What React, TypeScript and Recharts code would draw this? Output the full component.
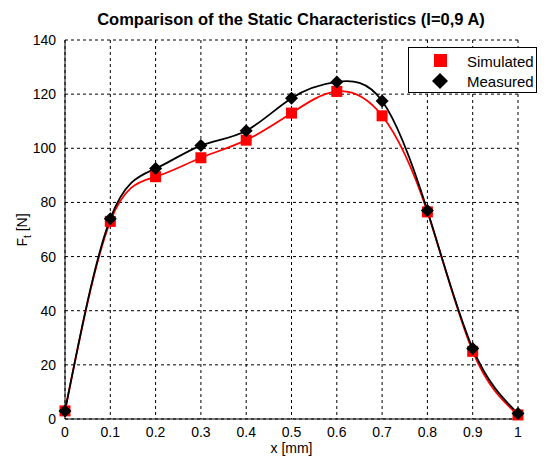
import { LineChart, Line, XAxis, YAxis, CartesianGrid, Legend } from "recharts"

const xValues = [0, 0.1, 0.2, 0.3, 0.4, 0.5, 0.6, 0.7, 0.8, 0.9, 1]
const simulated = [3, 73, 89.5, 96.5, 103, 113, 121, 112, 76.5, 25, 1.5]
const measured = [3, 74, 92.5, 101, 106.5, 118.5, 124.5, 117.5, 77, 26, 2]
const xTicks = [0, 0.1, 0.2, 0.3, 0.4, 0.5, 0.6, 0.7, 0.8, 0.9, 1]
const yTicks = [0, 20, 40, 60, 80, 100, 120, 140]

const data = xValues.map((x, i) => ({ x, sim: simulated[i], meas: measured[i] }))

const FONT = "'Liberation Sans', Arial, sans-serif"

const Square = (props: any) => {
  const { cx, cy } = props
  if (cx == null || cy == null) return null
  return <rect x={cx - 5.5} y={cy - 5.5} width={11} height={11} fill="#ff0000" />
}

const Diamond = (props: any) => {
  const { cx, cy } = props
  if (cx == null || cy == null) return null
  const r = 6.5
  return <polygon points={`${cx},${cy - r} ${cx + r},${cy} ${cx},${cy + r} ${cx - r},${cy}`} fill="#000" />
}

const LegendBox = () => (
  <div
    style={{
      border: "1px solid #000",
      background: "#fff",
      width: 129,
      height: 46,
      fontFamily: FONT,
      fontSize: 15,
      boxSizing: "border-box",
      paddingTop: 3,
    }}
  >
    <div style={{ display: "flex", alignItems: "center", height: 20 }}>
      <svg width={50} height={14}>
        <rect x={25} y={0} width={13} height={13} fill="#ff0000" />
      </svg>
      <span style={{ marginLeft: 8 }}>Simulated</span>
    </div>
    <div style={{ display: "flex", alignItems: "center", height: 20 }}>
      <svg width={50} height={16}>
        <polygon points="31,0 39,8 31,16 23,8" fill="#000" />
      </svg>
      <span style={{ marginLeft: 8 }}>Measured</span>
    </div>
  </div>
)

const YLabel = () => (
  <text x={27} y={230} transform="rotate(-90 27 230)" textAnchor="middle" fontFamily={FONT} fontSize={14} fill="#000">
    F<tspan fontSize={10} dy={4}>t</tspan>
    <tspan dy={-4}> [N]</tspan>
  </text>
)

export default function App() {
  return (
    <div style={{ position: "absolute", left: 0, top: 0, width: 552, height: 456, background: "#fff" }}>
      <div
        style={{
          position: "absolute",
          left: 0,
          top: 10,
          width: 582,
          textAlign: "center",
          fontFamily: FONT,
          fontWeight: "bold",
          fontSize: 16.5,
        }}
      >
        Comparison of the Static Characteristics (I=0,9 A)
      </div>
      <LineChart
        width={552}
        height={456}
        data={data}
        margin={{ top: 40, right: 34, left: 0, bottom: 0 }}
        style={{ fontFamily: FONT }}
      >
        <CartesianGrid stroke="#000" strokeDasharray="3 3" strokeWidth={1} />
        <XAxis
          dataKey="x"
          type="number"
          domain={[0, 1]}
          ticks={xTicks}
          tickFormatter={(v) => String(v)}
          axisLine={{ stroke: "#000" }}
          tickLine={false}
          tick={{ fill: "#000", fontSize: 14 }}
          tickMargin={2}
          height={37}
          label={{ value: "x [mm]", position: "insideBottom", offset: 3, fill: "#000", fontSize: 14 }}
        />
        <YAxis
          type="number"
          domain={[0, 140]}
          ticks={yTicks}
          width={65}
          axisLine={{ stroke: "#000" }}
          tickLine={false}
          tick={{ fill: "#000", fontSize: 14 }}
          tickMargin={3}
          label={<YLabel />}
        />
        <Legend
          layout="horizontal"
          verticalAlign="middle"
          align="center"
          content={<LegendBox />}
          wrapperStyle={{ position: "absolute", top: 47, left: 408, width: 129 }}
        />
        <Line
          type="natural"
          dataKey="sim"
          name="Simulated"
          stroke="#ff0000"
          strokeWidth={1.8}
          dot={<Square />}
          activeDot={false}
          isAnimationActive={false}
        />
        <Line
          type="natural"
          dataKey="meas"
          name="Measured"
          stroke="#000"
          strokeWidth={1.8}
          dot={<Diamond />}
          activeDot={false}
          isAnimationActive={false}
        />
      </LineChart>
    </div>
  )
}
